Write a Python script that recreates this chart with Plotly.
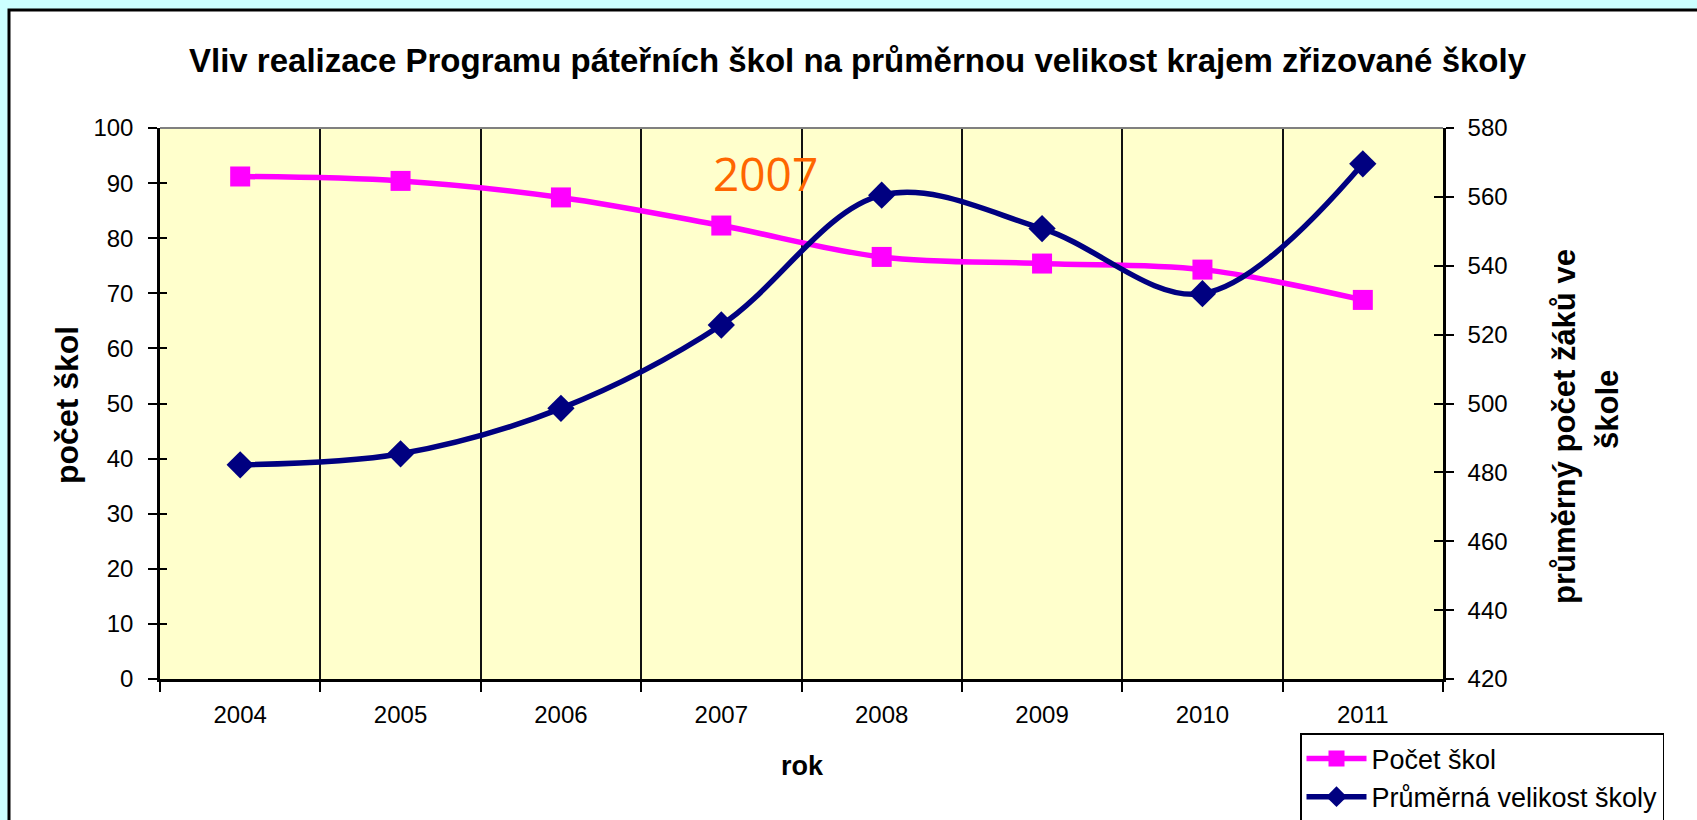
import plotly.graph_objects as go

# ---- data ----
years = ["2004", "2005", "2006", "2007", "2008", "2009", "2010", "2011"]
pocet_skol = [91.2, 90.4, 87.4, 82.3, 76.6, 75.4, 74.3, 68.8]
prumerna_velikost = [482.2, 485.4, 498.6, 522.8, 560.5, 550.8, 531.9, 569.6]

left_ticks = [0, 10, 20, 30, 40, 50, 60, 70, 80, 90, 100]
right_ticks = [420, 440, 460, 480, 500, 520, 540, 560, 580]

title_text = "Vliv realizace Programu páteřních škol na průměrnou velikost krajem zřizované školy"
left_title = "počet škol"
right_title_1 = "průměrný počet žáků ve"
right_title_2 = "škole"
x_title = "rok"
note_text = "2007"

W, H = 1697, 820
L, R, T, B = 160, 254, 128, 141
PW, PH = W - L - R, H - T - B
FONT = "Arial, Liberation Sans, sans-serif"


def px(x):
    # pixel x -> paper (plot-area) fraction
    return (x - L) / PW


def py(y):
    # pixel y -> paper (plot-area) fraction
    return (H - B - y) / PH


fig = go.Figure()

fig.add_trace(go.Scatter(
    x=years, y=pocet_skol, name="Počet škol", mode="lines+markers",
    line=dict(color="#FF00FF", width=5.5, shape="spline", smoothing=1),
    marker=dict(symbol="square", size=20, color="#FF00FF"),
    yaxis="y"))
fig.add_trace(go.Scatter(
    x=years, y=prumerna_velikost, name="Průměrná velikost školy", mode="lines+markers",
    line=dict(color="#000080", width=5.5, shape="spline", smoothing=1),
    marker=dict(symbol="diamond", size=21, color="#000080"),
    yaxis="y2"))
# empty traces to carry the inner tick axes
fig.add_trace(go.Scatter(x=years, y=[None] * len(years), yaxis="y3", showlegend=False, hoverinfo="skip"))
fig.add_trace(go.Scatter(x=years, y=[None] * len(years), yaxis="y4", showlegend=False, hoverinfo="skip"))

tickfont = dict(family=FONT, size=24, color="black")

fig.update_layout(
    width=W, height=H, autosize=False,
    margin=dict(l=L, r=R, t=T, b=B, pad=0, autoexpand=False),
    paper_bgcolor="#CCFFFF",
    plot_bgcolor="rgba(0,0,0,0)",
    showlegend=True,
    xaxis=dict(
        type="category", tickson="boundaries", showgrid=True, gridcolor="#111111", gridwidth=2,
        ticks="outside", ticklen=10, tickwidth=2, tickcolor="black",
        showline=True, linecolor="black", linewidth=2.5,
        tickfont=tickfont, ticklabelstandoff=12, zeroline=False, range=[-0.5, 7.5]),
    yaxis=dict(
        range=[0, 100], tickvals=left_ticks, ticks="outside", ticklen=9, tickwidth=2, tickcolor="black",
        showline=True, linecolor="black", linewidth=2.5, showgrid=False, zeroline=False,
        tickfont=tickfont, ticklabelstandoff=10),
    yaxis2=dict(
        range=[420, 580], tickvals=right_ticks, overlaying="y", side="right", anchor="x",
        ticks="outside", ticklen=8, tickwidth=2, tickcolor="black",
        showline=True, linecolor="black", linewidth=2.5, showgrid=False, zeroline=False,
        tickfont=tickfont, ticklabelstandoff=9),
    yaxis3=dict(
        range=[0, 100], tickvals=left_ticks, overlaying="y", side="left", anchor="x",
        ticks="inside", ticklen=7, tickwidth=2, tickcolor="black",
        showticklabels=False, showline=False, showgrid=False, zeroline=False),
    yaxis4=dict(
        range=[420, 580], tickvals=right_ticks, overlaying="y", side="right", anchor="x",
        ticks="inside", ticklen=9, tickwidth=2, tickcolor="black",
        showticklabels=False, showline=False, showgrid=False, zeroline=False),
    legend=dict(
        x=px(1300), y=py(733), xanchor="left", yanchor="top",
        bgcolor="white", bordercolor="black", borderwidth=1.5,
        font=dict(family=FONT, size=27, color="black"), itemwidth=60,
        tracegroupgap=0),
)

# white chart frame
fig.add_shape(type="rect", xref="paper", yref="paper",
              x0=px(9), x1=px(1720), y0=py(840), y1=py(10),
              fillcolor="white", line=dict(color="black", width=3), layer="below")
# yellow plot area
fig.add_shape(type="rect", xref="x domain", yref="y domain", x0=0, x1=1, y0=0, y1=1,
              fillcolor="#FFFFCC", line=dict(width=0), layer="below")
# gray top border of plot area
fig.add_shape(type="line", xref="x domain", yref="y domain", x0=0, x1=1, y0=1, y1=1,
              line=dict(color="#808080", width=2))

fig.add_annotation(text="<b>" + title_text + "</b>", xref="paper", yref="paper",
                   x=px(858), y=py(60), xanchor="center", yanchor="middle", showarrow=False,
                   font=dict(family=FONT, size=33, color="black"))
fig.add_annotation(text="<b>" + left_title + "</b>", xref="paper", yref="paper",
                   x=px(67), y=py(405), textangle=-90, xanchor="center", yanchor="middle",
                   showarrow=False, font=dict(family=FONT, size=32, color="black"))
fig.add_annotation(text="<b>" + right_title_1 + "</b>", xref="paper", yref="paper",
                   x=px(1564), y=py(427), textangle=-90, xanchor="center", yanchor="middle",
                   showarrow=False, font=dict(family=FONT, size=31, color="black"))
fig.add_annotation(text="<b>" + right_title_2 + "</b>", xref="paper", yref="paper",
                   x=px(1607), y=py(409), textangle=-90, xanchor="center", yanchor="middle",
                   showarrow=False, font=dict(family=FONT, size=31, color="black"))
fig.add_annotation(text="<b>" + x_title + "</b>", xref="paper", yref="paper",
                   x=px(802), y=py(766), xanchor="center", yanchor="middle",
                   showarrow=False, font=dict(family=FONT, size=27, color="black"))
fig.add_annotation(text=note_text, xref="paper", yref="paper",
                   x=px(765), y=py(173), xanchor="center", yanchor="middle",
                   showarrow=False, font=dict(family="Open Sans, sans-serif", size=46, color="#FF6600"))

fig.write_html(
    "out.html",
    config={"responsive": False, "displayModeBar": False},
    post_script="document.body.style.margin='0';document.body.style.padding='0';"
                "document.body.style.overflow='hidden';",
)
